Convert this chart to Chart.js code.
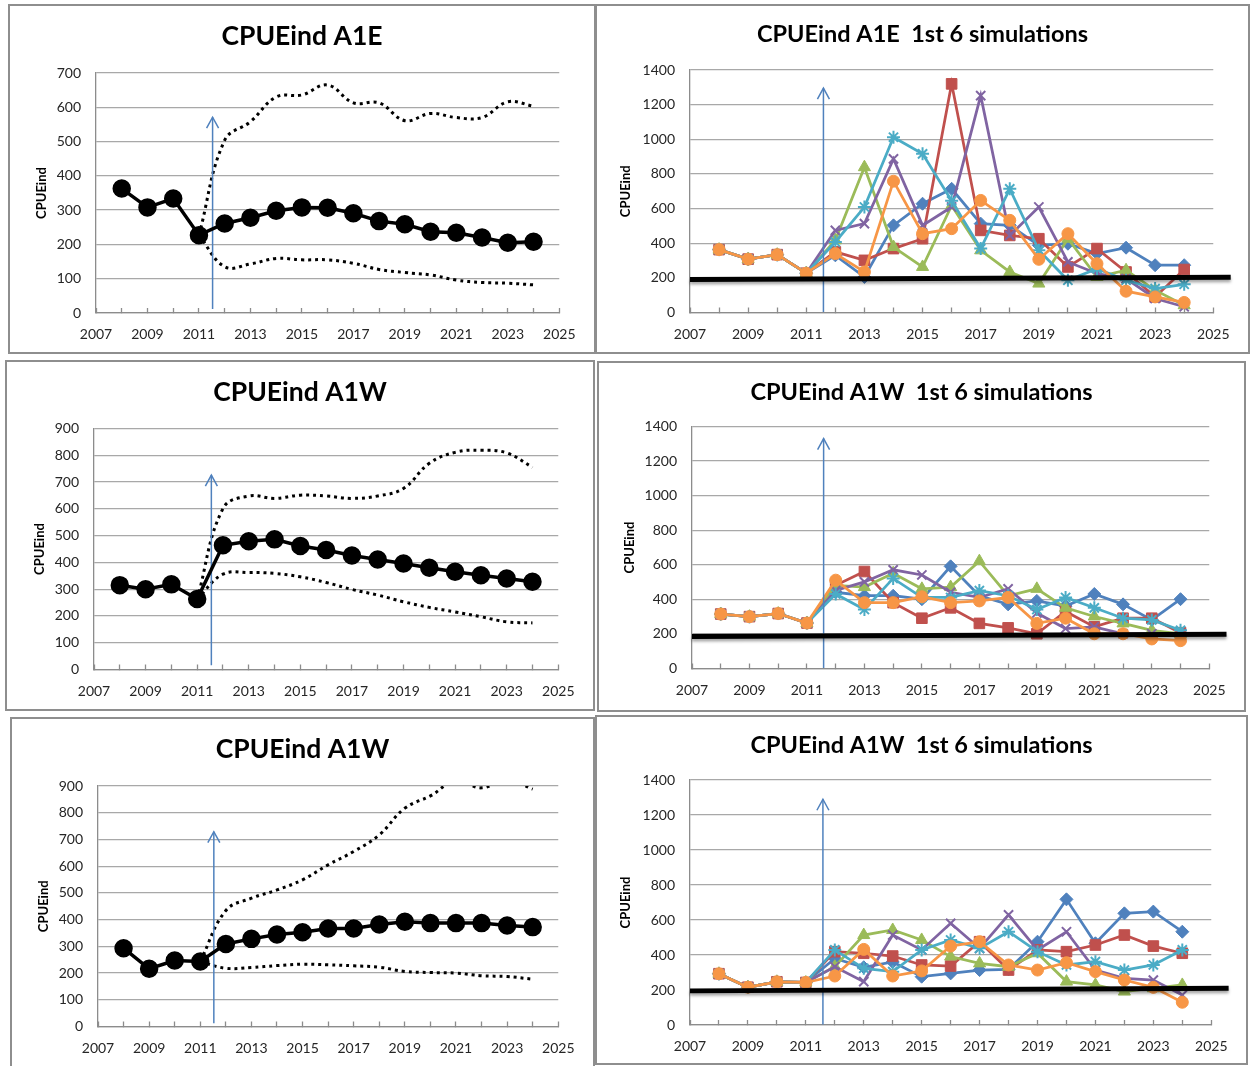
<!DOCTYPE html>
<html>
<head>
<meta charset="utf-8">
<title>CPUEind projections</title>
<script src="https://cdn.jsdelivr.net/npm/chart.js@4.4.1/dist/chart.umd.min.js"></script>
<style>
  html, body { margin: 0; padding: 0; background: #fff; }
  body { width: 1250px; height: 1066px; position: relative; overflow: hidden; }
  .panel { position: absolute; box-sizing: border-box; border: 2px solid #8e8e8e; background: #fff; }
  .panel canvas { display: block; }
</style>
</head>
<body>
<div id="pA1E" class="panel"><canvas></canvas></div>
<div id="sA1E" class="panel"><canvas></canvas></div>
<div id="pA1W" class="panel"><canvas></canvas></div>
<div id="sA1W" class="panel"><canvas></canvas></div>
<div id="pA1W2" class="panel"><canvas></canvas></div>
<div id="sA1W2" class="panel"><canvas></canvas></div>
<script>
// ---- years on the x axis ----
const years = [2008, 2009, 2010, 2011, 2012, 2013, 2014, 2015, 2016, 2017, 2018, 2019, 2020, 2021, 2022, 2023, 2024];

// ---- A1E: median projection with its bounds ----
const a1eMean  = [363, 308, 334, 227, 261, 278, 298, 308, 307, 291, 268, 259, 237, 234, 220, 205, 208];
const a1eUpper = [null, null, null, 227, 504, 558, 630, 636, 665, 613, 613, 561, 582, 570, 570, 616, 603];
const a1eLower = [null, null, null, 227, 135, 143, 159, 155, 155, 145, 127, 118, 111, 96, 89, 87, 82];

// ---- A1E: first six simulations (2012-2024) ----
const a1eSim1 = [330, 205, 503, 628, 714, 513, 503, 388, 397, 340, 374, 273, 273];
const a1eSim2 = [350, 301, 369, 426, 1320, 474, 445, 426, 263, 369, 234, 90, 248];
const a1eSim3 = [417, 839, 378, 263, 618, 359, 234, 167, 426, 205, 244, 129, 42];
const a1eSim4 = [474, 513, 887, 503, 609, 1252, 445, 609, 292, 225, 196, 81, 33];
const a1eSim5 = [407, 609, 1012, 916, 645, 369, 714, 359, 186, 253, 186, 138, 163];
const a1eSim6 = [340, 234, 758, 455, 484, 647, 532, 307, 455, 282, 123, 90, 58];

// ---- A1W: median projection with its bounds ----
const a1wMean  = [315, 300, 318, 263, 464, 479, 486, 461, 446, 426, 411, 396, 380, 365, 352, 340, 328];
const a1wUpper = [null, null, null, 263, 601, 648, 639, 651, 648, 639, 648, 676, 770, 811, 819, 809, 755];
const a1wLower = [null, null, null, 263, 356, 362, 359, 346, 325, 299, 278, 253, 232, 215, 197, 178, 174];

// ---- A1W: first six simulations (2012-2024) ----
const a1wSim1 = [441, 421, 421, 401, 591, 421, 371, 391, 361, 431, 371, 281, 401];
const a1wSim2 = [481, 561, 381, 291, 351, 261, 235, 201, 330, 241, 291, 291, 207];
const a1wSim3 = [481, 471, 551, 461, 471, 621, 421, 461, 351, 301, 261, 221, 201];
const a1wSim4 = [451, 501, 571, 541, 441, 411, 461, 321, 231, 241, 201, 201, 201];
const a1wSim5 = [431, 341, 521, 411, 411, 451, 421, 341, 411, 351, 291, 281, 221];
const a1wSim6 = [511, 381, 381, 415, 381, 391, 411, 261, 291, 201, 201, 171, 161];

// ---- A1W (second run): median projection with its bounds ----
const a1w2Mean  = [293, 216, 247, 243, 309, 328, 344, 353, 367, 367, 382, 392, 387, 387, 387, 378, 372];
const a1w2Upper = [null, null, null, 243, 434, 480, 511, 549, 605, 655, 717, 817, 863, 920, 893, 925, 888];
const a1w2Lower = [null, null, null, 243, 218, 221, 228, 233, 231, 227, 222, 206, 202, 200, 190, 187, 177];

// ---- A1W (second run): first six simulations (2012-2024) ----
const a1w2Sim1 = [380, 330, 360, 276, 295, 314, 318, 476, 718, 467, 638, 648, 533];
const a1w2Sim2 = [419, 410, 394, 343, 337, 476, 314, 429, 419, 457, 514, 451, 410];
const a1w2Sim3 = [333, 514, 543, 486, 391, 352, 333, 410, 248, 229, 191, 210, 229];
const a1w2Sim4 = [333, 248, 514, 429, 581, 438, 629, 429, 533, 314, 267, 257, 171];
const a1w2Sim5 = [429, 324, 305, 429, 486, 438, 533, 419, 343, 362, 314, 343, 429];
const a1w2Sim6 = [280, 432, 280, 309, 451, 476, 343, 314, 356, 305, 257, 215, 130];

// ---- management start marker (year, bottom, top) and reference level (x0, y0, x1, y1) ----
const startA1E  = [2011.53, 12, 571];
const startA1W  = [2011.55, 16, 726];
const startA1W2 = [2011.53, 12, 729];
const simStartA1E  = [2011.59, 3, 1295];
const simStartA1W  = [2011.58, 3, 1330];
const simStartA1W2 = [2011.59, 3, 1290];
const refA1E  = [2007, 190, 2025.6, 203];
const refA1W  = [2007, 185, 2025.6, 198];
const refA1W2 = [2007, 195, 2025.6, 210];

const FONT = 'Lato, "Carlito", "Open Sans", sans-serif';
const SIM_STYLE = [
  { color: '#4F81BD', style: 'rectRot',  r: 6.5 },
  { color: '#C0504D', style: 'rect',     r: 7.5 },
  { color: '#9BBB59', style: 'triangle', r: 7 },
  { color: '#8064A2', style: 'crossRot', r: 6.5 },
  { color: '#4BACC6', style: 'star',     r: 6.5 },
  { color: '#F79646', style: 'circle',   r: 6 }
];

function pts(xs, vals) {
  return xs.map((x, i) => ({ x: x, y: vals[i] }));
}

function arrowSet(a) {
  return {
    data: [{ x: a[0], y: a[1] }, { x: a[0], y: a[2] }],
    borderColor: '#4F81BD', borderWidth: 1.5, pointRadius: 0,
    arrowHead: true, order: 1
  };
}

function refSet(r) {
  return {
    data: [{ x: r[0], y: r[1] }, { x: r[2], y: r[3] }],
    borderColor: '#000', borderWidth: 5, pointRadius: 0,
    clip: false, shadow: true, order: 0, borderCapStyle: 'butt'
  };
}

function boundSets(mean, upper, lower, start) {
  const dotted = (vals) => ({
    data: pts(years, vals), borderColor: '#000', borderWidth: 3,
    borderDash: [3, 4], pointRadius: 0, tension: 0.4, spanGaps: false, order: 5
  });
  return [
    {
      data: pts(years, mean), borderColor: '#000', borderWidth: 3.5,
      pointStyle: 'circle', pointRadius: 7.5, pointBackgroundColor: '#000',
      pointBorderColor: '#000', order: 0
    },
    arrowSet(start),
    dotted(upper),
    dotted(lower)
  ];
}

function simSets(hist, sims, start, ref) {
  const sets = [refSet(ref), arrowSet(start)];
  sims.forEach((vals, i) => {
    const s = SIM_STYLE[i];
    const lineMarker = s.style === 'crossRot' || s.style === 'star';
    sets.push({
      data: pts(years, hist.concat(vals)),
      borderColor: s.color, borderWidth: 2.75,
      pointStyle: s.style, pointRadius: s.r,
      pointBackgroundColor: s.color, pointBorderColor: s.color,
      pointBorderWidth: lineMarker ? 2 : 1,
      order: 7 - i
    });
  });
  return sets;
}

// Open "V" arrow head at the top end of the start marker, soft shadow under the reference level
const decorations = {
  id: 'decorations',
  beforeDatasetDraw(chart, args) {
    const ds = chart.data.datasets[args.index];
    if (ds.shadow) {
      const ctx = chart.ctx;
      ctx.save();
      ctx.shadowColor = 'rgba(0,0,0,0.35)';
      ctx.shadowBlur = 3;
      ctx.shadowOffsetY = 2.5;
    }
  },
  afterDatasetDraw(chart, args) {
    const ds = chart.data.datasets[args.index];
    if (ds.shadow) chart.ctx.restore();
    if (ds.arrowHead) {
      const p = args.meta.data[1];
      const ctx = chart.ctx;
      ctx.save();
      ctx.strokeStyle = ds.borderColor;
      ctx.lineWidth = 1.5;
      ctx.beginPath();
      ctx.moveTo(p.x - 6, p.y + 11);
      ctx.lineTo(p.x, p.y);
      ctx.lineTo(p.x + 6, p.y + 11);
      ctx.stroke();
      ctx.restore();
    }
  }
};

function panel(id, box, plot, o) {
  const el = document.getElementById(id);
  el.style.left = box[0] + 'px';
  el.style.top = box[1] + 'px';
  el.style.width = (box[2] - box[0]) + 'px';
  el.style.height = (box[3] - box[1]) + 'px';
  const ox = box[0] + 2, oy = box[1] + 2;
  const cw = box[2] - box[0] - 4, ch = box[3] - box[1] - 4;
  const rightGap = ox + cw - plot[2];
  const tSize = o.titleSize;
  const tpTop = o.titleY - oy - 0.6 * tSize;
  const tpBot = plot[1] - oy - tpTop - 1.2 * tSize;
  const tickFont = { family: FONT, size: 14 };
  new Chart(el.querySelector('canvas'), {
    type: 'line',
    data: { datasets: o.datasets },
    options: {
      responsive: true,
      maintainAspectRatio: false,
      animation: false,
      events: [],
      layout: { padding: 0 },
      plugins: {
        legend: { display: false },
        tooltip: { enabled: false },
        title: {
          display: true, text: o.title, color: '#000',
          font: { family: FONT, size: tSize, weight: 'bold' },
          padding: { top: tpTop, bottom: tpBot }
        }
      },
      scales: {
        x: {
          type: 'linear', min: 2007, max: 2025,
          afterFit(s) { s.height = oy + ch - plot[3]; },
          ticks: {
            stepSize: 1, autoSkip: false, maxRotation: 0, minRotation: 0,
            padding: 18.5, font: tickFont, color: '#262626',
            callback: (v) => (v % 2 === 1 ? String(v) : '')
          },
          grid: { drawOnChartArea: false, drawTicks: true, tickLength: -5, tickColor: '#8c8c8c', tickWidth: 1.3 },
          border: { display: true, color: '#8c8c8c', width: 1.3 }
        },
        y: {
          min: 0, max: o.ymax,
          afterFit(s) { s.width = plot[0] - ox; },
          ticks: { stepSize: o.step, padding: 15, font: tickFont, color: '#262626', callback: (v) => String(v) },
          grid: { color: '#a8a8a8', lineWidth: 1.3, drawTicks: false },
          border: { display: true, color: '#8c8c8c', width: 1.3 },
          title: {
            display: true, text: 'CPUEind', color: '#000',
            font: { family: FONT, size: 13, weight: 'bold' },
            padding: { top: o.yTitleX - ox - 7.8, bottom: 0 }
          }
        },
        // empty right-hand gutter, keeps the title centred on the whole panel
        gutter: {
          type: 'linear', position: 'right', display: true,
          afterFit(s) { s.width = rightGap; },
          ticks: { display: false },
          grid: { display: false, drawTicks: false },
          border: { display: false }
        }
      }
    },
    plugins: [decorations]
  });
}

panel('pA1E', [8, 4, 596, 354], [96, 73, 566, 313], {
  title: 'CPUEind A1E', titleSize: 26.5, titleY: 36, yTitleX: 42, ymax: 700, step: 100,
  datasets: boundSets(a1eMean, a1eUpper, a1eLower, startA1E)
});
panel('sA1E', [595, 4, 1250, 354], [690, 70, 1215, 312.5], {
  title: 'CPUEind A1E  1st 6 simulations', titleSize: 23.5, titleY: 34, yTitleX: 626, ymax: 1400, step: 200,
  datasets: simSets(a1eMean.slice(0, 4), [a1eSim1, a1eSim2, a1eSim3, a1eSim4, a1eSim5, a1eSim6], simStartA1E, refA1E)
});
panel('pA1W', [5, 360, 595, 711], [94, 428.5, 564, 669.5], {
  title: 'CPUEind A1W', titleSize: 26.5, titleY: 392, yTitleX: 40, ymax: 900, step: 100,
  datasets: boundSets(a1wMean, a1wUpper, a1wLower, startA1W)
});
panel('sA1W', [597, 361, 1246, 712], [692, 426.5, 1211, 668.5], {
  title: 'CPUEind A1W  1st 6 simulations', titleSize: 23.5, titleY: 392, yTitleX: 630, ymax: 1400, step: 200,
  datasets: simSets(a1wMean.slice(0, 4), [a1wSim1, a1wSim2, a1wSim3, a1wSim4, a1wSim5, a1wSim6], simStartA1W, refA1W)
});
panel('pA1W2', [10, 717, 595, 1068], [98, 786, 568, 1026.5], {
  title: 'CPUEind A1W', titleSize: 26.5, titleY: 749, yTitleX: 44, ymax: 900, step: 100,
  datasets: boundSets(a1w2Mean, a1w2Upper, a1w2Lower, startA1W2)
});
panel('sA1W2', [595, 715, 1248, 1065], [690, 780, 1212, 1025], {
  title: 'CPUEind A1W  1st 6 simulations', titleSize: 23.5, titleY: 745, yTitleX: 626, ymax: 1400, step: 200,
  datasets: simSets(a1w2Mean.slice(0, 4), [a1w2Sim1, a1w2Sim2, a1w2Sim3, a1w2Sim4, a1w2Sim5, a1w2Sim6], simStartA1W2, refA1W2)
});
</script>
</body>
</html>
